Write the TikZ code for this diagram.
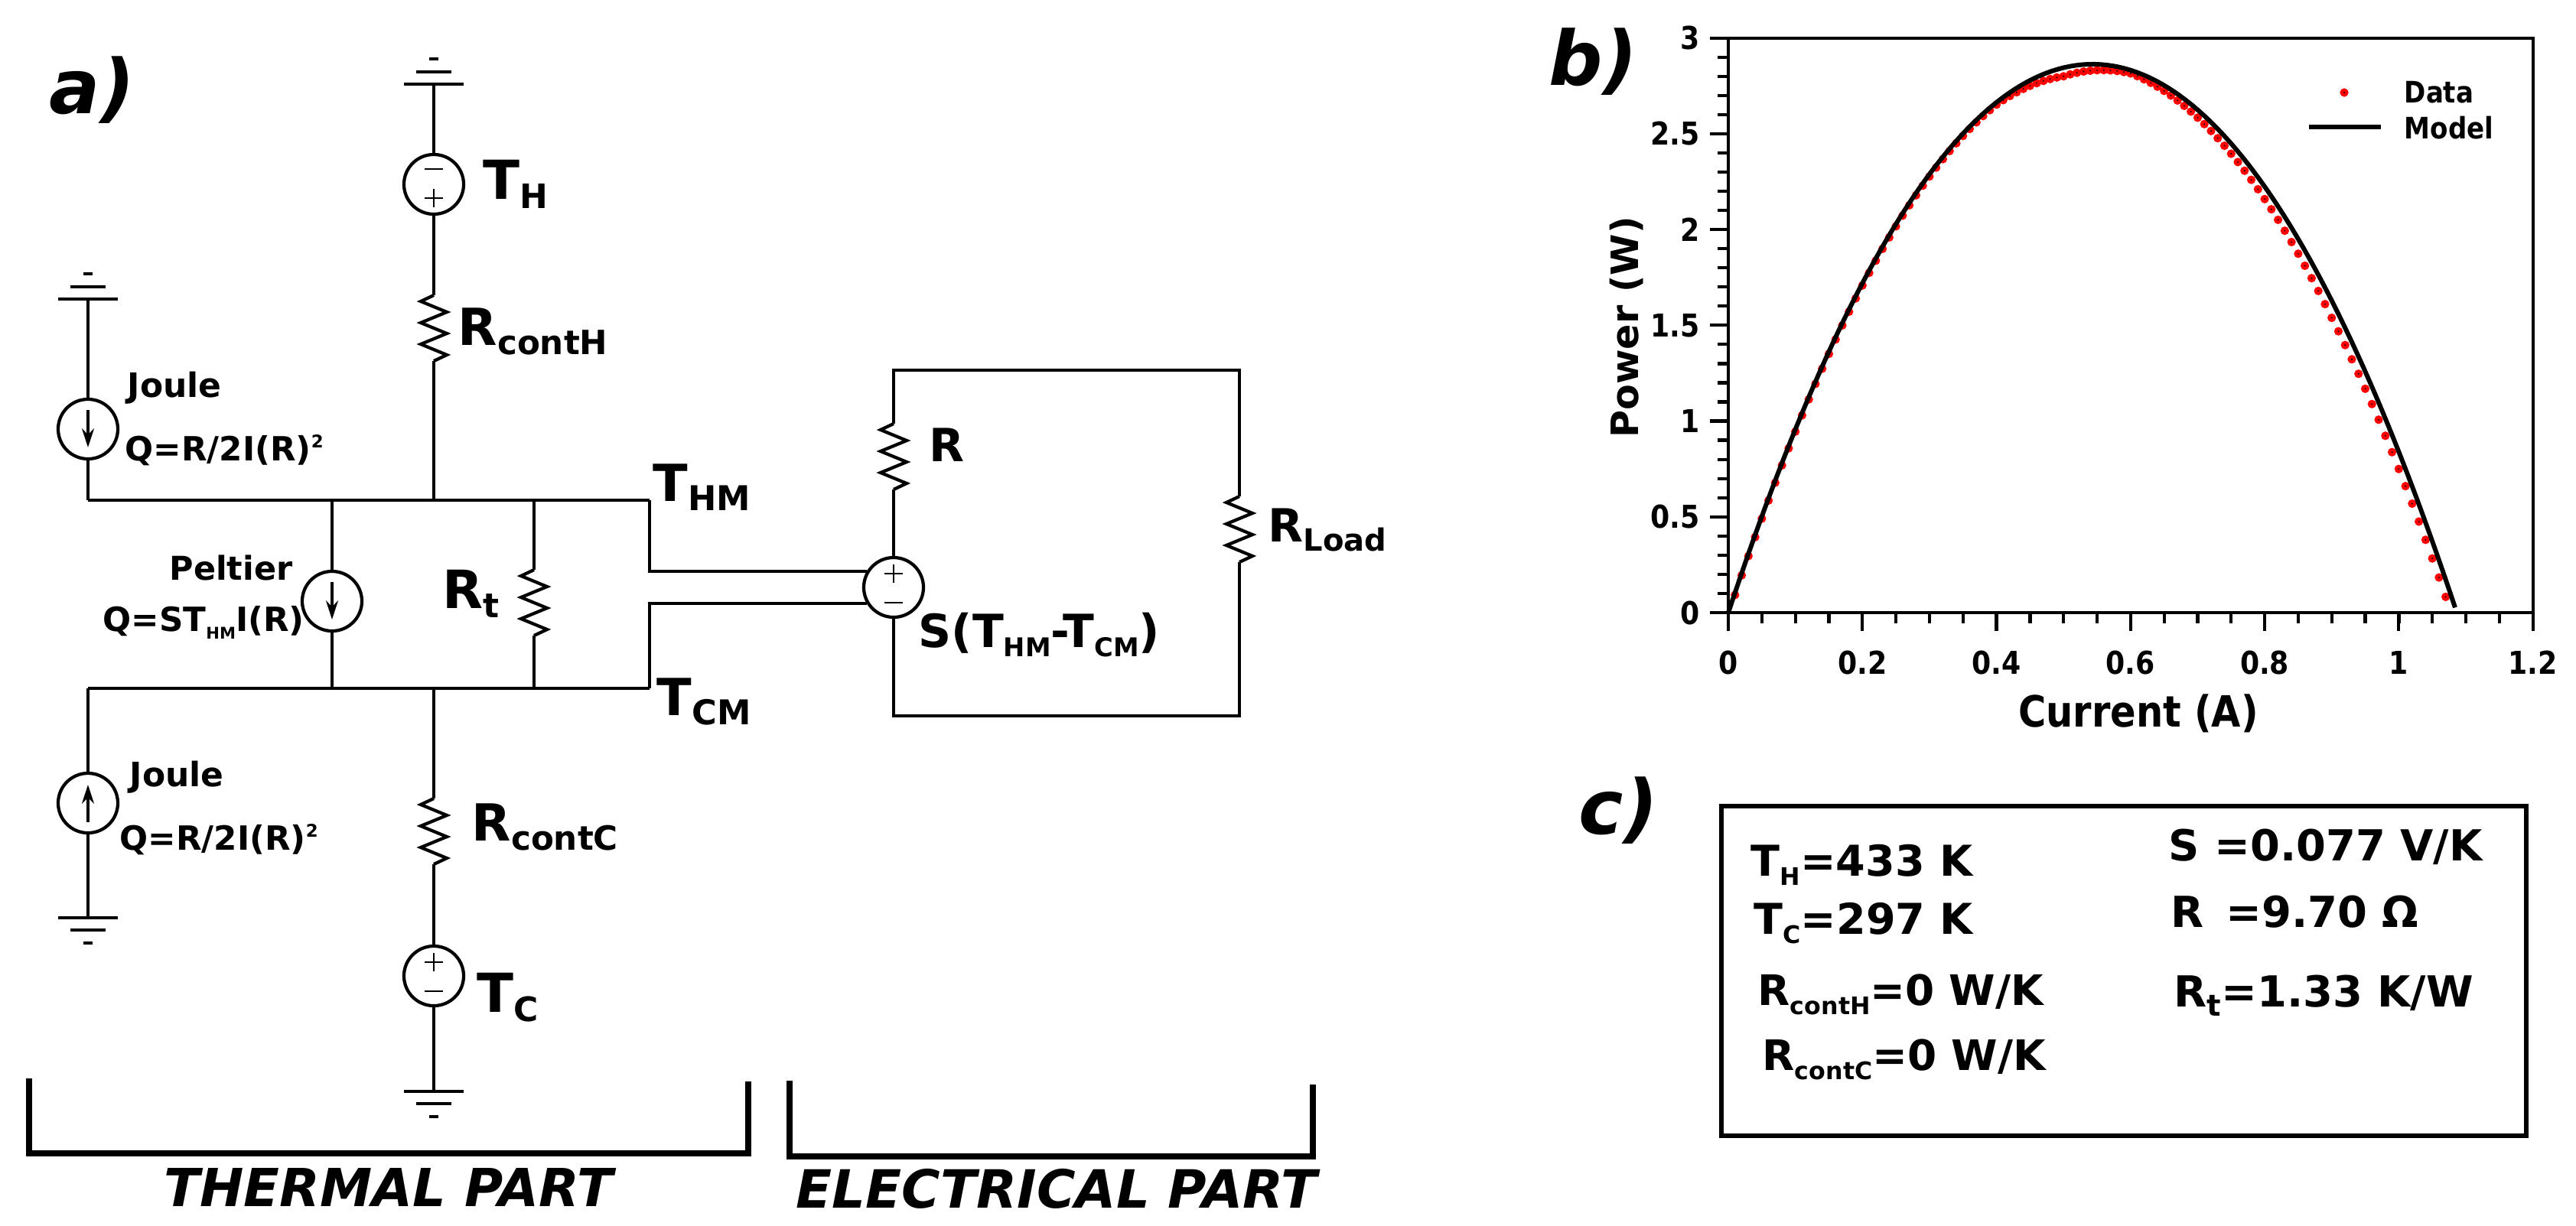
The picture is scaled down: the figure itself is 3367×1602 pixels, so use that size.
\documentclass[tikz,border=0pt]{standalone}
\usepackage{fontspec}
\setmainfont{DejaVu Sans}
\newfontfamily\plotfont[FakeStretch=0.88]{DejaVu Sans}
\usetikzlibrary{arrows.meta}

\newcommand{\fs}[1]{\fontsize{#1}{#1}\selectfont}
\newcommand{\sbt}[2]{\raisebox{-3.6pt}{\fs{#1}#2}}

\tikzset{
  wire/.style={line width=1.2pt,line join=miter},
  sign/.style={line width=0.8pt},
  brack/.style={line width=2.3pt,line join=miter},
  lab/.style={anchor=base west,inner sep=0pt,font=\bfseries\fs{#1}},
  panel/.style={anchor=base west,inner sep=0pt,font=\bfseries\itshape\fs{28}},
  tick/.style={anchor=#1,inner sep=0pt,font=\plotfont\bfseries\fs{11.7}},
  src/.style={draw,wire,circle,minimum size=0.78cm,inner sep=0pt},
  volt/.style={src,path picture={
      \draw[sign,shift={(path picture bounding box.center)}]
        (-12,#1*20) -- (12,#1*20) (-12,-#1*18) -- (12,-#1*18) (0,-#1*18-12) -- (0,-#1*18+12);}},
  curr/.style={src,path picture={
      \draw[wire,->,shift={(path picture bounding box.center)}] (0,-#1*25) -- (0,#1*24);}},
  resv/.pic={
    \coordinate (-t) at (0,0);
    \coordinate (-b) at (0,86);
    \draw[wire] (-t) -- (-17,8) -- (17,22) -- (-17,36) -- (17,50) -- (-17,64) -- (17,78) -- (-b);},
  gnd/.pic={
    \coordinate (-p) at (0,0);
    \draw[wire] (-39,0) -- (39,0) (-23,16) -- (23,16) (-6,33) -- (6,33);}
}

\begin{document}
\begin{tikzpicture}[x=0.01cm,y=-0.01cm,>={Stealth[length=7pt,width=4.5pt]}]
\useasboundingbox (0,0) rectangle (3367,1602);

% a) thermal part
\node[panel] (pa) at (64,148) {a)};
\pic[yscale=-1] (gh) at (567,110) {gnd};
\pic[yscale=-1] (gj) at (115,391) {gnd};
\pic (gk) at (115,1200) {gnd};
\pic (gc) at (567,1427) {gnd};
\node[volt=-1] (sh) at (567,241) {};
\node[volt=1] (sc) at (567,1276) {};
\node[curr=1] (sj) at (115,561) {};
\node[curr=-1] (sk) at (115,1050) {};
\node[curr=1] (sp) at (434,786) {};
\pic (rh) at (567,386) {resv};
\pic (rc) at (567,1044) {resv};
\pic (rt) at (698,745) {resv};
\coordinate (tl) at (115,654);
\coordinate (tp) at (434,654);
\coordinate (tm) at (567,654);
\coordinate (tr) at (698,654);
\coordinate (te) at (849,654);
\coordinate (bl) at (115,900);
\coordinate (bp) at (434,900);
\coordinate (bm) at (567,900);
\coordinate (br) at (698,900);
\coordinate (be) at (849,900);
\draw[wire] (tl) -- (te);
\draw[wire] (bl) -- (be);
\draw[wire] (gh-p) -- (sh) (sh) -- (rh-t) (rh-b) -- (tm);
\draw[wire] (gj-p) -- (sj) (sj) -- (tl);
\draw[wire] (bl) -- (sk) (sk) -- (gk-p);
\draw[wire] (tp) -- (sp) (sp) -- (bp);
\draw[wire] (tr) -- (rt-t) (rt-b) -- (br);
\draw[wire] (bm) -- (rc-t) (rc-b) -- (sc) (sc) -- (gc-p);

\node[lab=20] (lth) at (631,260) {T\sbt{12.5}{H}};
\node[lab=19] (lrh) at (598,451) {R\sbt{12.4}{contH}};
\node[lab=12.5] (lj1) at (166,519) {Joule};
\node[lab=12.4] (lq1) at (163,602) {Q=R/2I(R)\raisebox{4.6pt}{\fs{6.5}2}};
\node[lab=19] (lhm) at (853,655) {T\sbt{12.7}{HM}};
\node[lab=12.2] (lpe) at (221,758) {Peltier};
\node[lab=12.4] (lqp) at (134,825) {Q=ST\raisebox{-3pt}{\fs{6}HM}I(R)};
\node[lab=19.6] (lrt) at (578,795) {R\sbt{12.5}{t}};
\node[lab=19] (lcm) at (858,935) {T\sbt{12.7}{CM}};
\node[lab=12.5] (lj2) at (169,1028) {Joule};
\node[lab=12.4] (lq2) at (156,1111) {Q=R/2I(R)\raisebox{4.6pt}{\fs{6.5}2}};
\node[lab=19] (lrc) at (616,1099) {R\sbt{12.4}{contC}};
\node[lab=20] (ltc) at (623,1323) {T\sbt{12.5}{C}};

\draw[brack] (38,1410) -- (38,1508) -- (978,1508) -- (978,1414);
\node[panel,font=\bfseries\itshape\fs{19.5}] (lth2) at (214,1577) {THERMAL PART};

% electrical part
\node[volt=1] (ss) at (1168,768) {};
\pic (rr) at (1168,554) {resv};
\pic (rl) at (1620,649) {resv};
\coordinate (lt) at (1168,484);
\coordinate (rgt) at (1620,484);
\coordinate (rgb) at (1620,936);
\coordinate (lb) at (1168,936);
\draw[wire] (ss) -- (rr-b) (rr-t) -- (lt) -- (rgt) -- (rl-t);
\draw[wire] (rl-b) -- (rgb) -- (lb) -- (ss);
\draw[wire] (te) |- (ss.149);
\draw[wire] (be) |- (ss.211);
\node[lab=17] (lr) at (1214,603) {R};
\node[lab=17] (lrl) at (1657,708) {R\sbt{11.4}{Load}};
\node[lab=17] (lse) at (1200,846) {S(T\sbt{9.6}{HM}-T\sbt{9.6}{CM})};

\draw[brack] (1032,1413) -- (1032,1512) -- (1716,1512) -- (1716,1418);
\node[panel,font=\bfseries\itshape\fs{19.6}] (lel) at (1040,1579) {ELECTRICAL PART};

% b) power curve
\node[panel] (pb) at (2024,111) {b)};
\begin{scope}[shift={(2259,801)},x=8.758cm,y=2.503cm]
  \foreach \i in {1,...,107}{
    \pgfmathsetmacro\xv{\i/100}
    \pgfmathsetmacro\yv{10.54*\xv-9.7*\xv*\xv-(\xv<0.4 ? 0.012 : (\xv<0.5 ? 0.012+(\xv-0.4)*0.33 : (\xv<0.6 ? 0.045-(\xv-0.5)*0.28 : (\xv<0.9 ? 0.017+(\xv-0.6)*0.24 : 0.09))))}
    \fill[red] (\xv,\yv) circle[radius=1.6pt];
    \fill[black] (\xv,\yv) circle[radius=0.3pt];
  }
  \draw[line width=1.7pt,domain=0:1.085,samples=120] plot (\x,{10.54*\x-9.70*\x*\x});
  \draw[wire] (0,0) rectangle (1.2,3);
  \foreach \x in {0,0.05,...,1.2}
    \draw[wire] (\x,0) -- ++(0,-4pt);
  \foreach \y in {0,0.1,...,3}
    \draw[wire] (0,\y) -- ++(-4pt,0);
  \foreach \x/\t in {0/0,0.2/0.2,0.4/0.4,0.6/0.6,0.8/0.8,1/1,1.2/1.2}{
    \draw[wire] (\x,0) -- ++(0,-6.8pt);
    \node[tick=north] (xl\t) at (\x,-0.197) {\t};
  }
  \foreach \y/\t in {0/0,0.5/0.5,1/1,1.5/1.5,2/2,2.5/2.5,3/3}{
    \draw[wire] (0,\y) -- ++(-6.8pt,0);
    \node[tick=east] (yl\t) at (-0.042,\y) {\t};
  }
\end{scope}
\node[anchor=base,inner sep=0pt,font=\plotfont\bfseries\fs{16}] (lcu) at (2795,950) {Current (A)};
\node[anchor=base,rotate=90,inner sep=0pt,font=\bfseries\fs{14}] (lpo) at (2141,428) {Power (W)};
\fill[red] (3064,121) circle[radius=1.6pt];
\fill[black] (3064,121) circle[radius=0.3pt];
\coordinate (ml) at (3018,166);
\coordinate (mr) at (3112,166);
\draw[line width=1.7pt] (ml) -- (mr);
\node[lab=11,font=\plotfont\bfseries\fs{11}] (lda) at (3142,134) {Data};
\node[lab=11,font=\plotfont\bfseries\fs{11}] (lmo) at (3142,181) {Model};

% c) values
\node[panel] (pc) at (2063,1090) {c)};
\draw[line width=1.5pt] (2250,1054) rectangle (3302,1485);
\node[lab=15.8] (vth) at (2288,1145) {T\sbt{9}{H}=433 K};
\node[lab=15.8] (vtc) at (2292,1221) {T\sbt{9}{C}=297 K};
\node[lab=15.6] (vrh) at (2297,1314) {R\sbt{9}{contH}=0 W/K};
\node[lab=15.6] (vrc) at (2303,1399) {R\sbt{9}{contC}=0 W/K};
\node[lab=15.9] (vs) at (2834,1125) {S =0.077 V/K};
\node[lab=15.9] (vr) at (2837,1212) {R \,=9.70 Ω};
\node[lab=15.9] (vrt) at (2841,1316) {R\sbt{11}{t}=1.33 K/W};
\end{tikzpicture}
\end{document}
